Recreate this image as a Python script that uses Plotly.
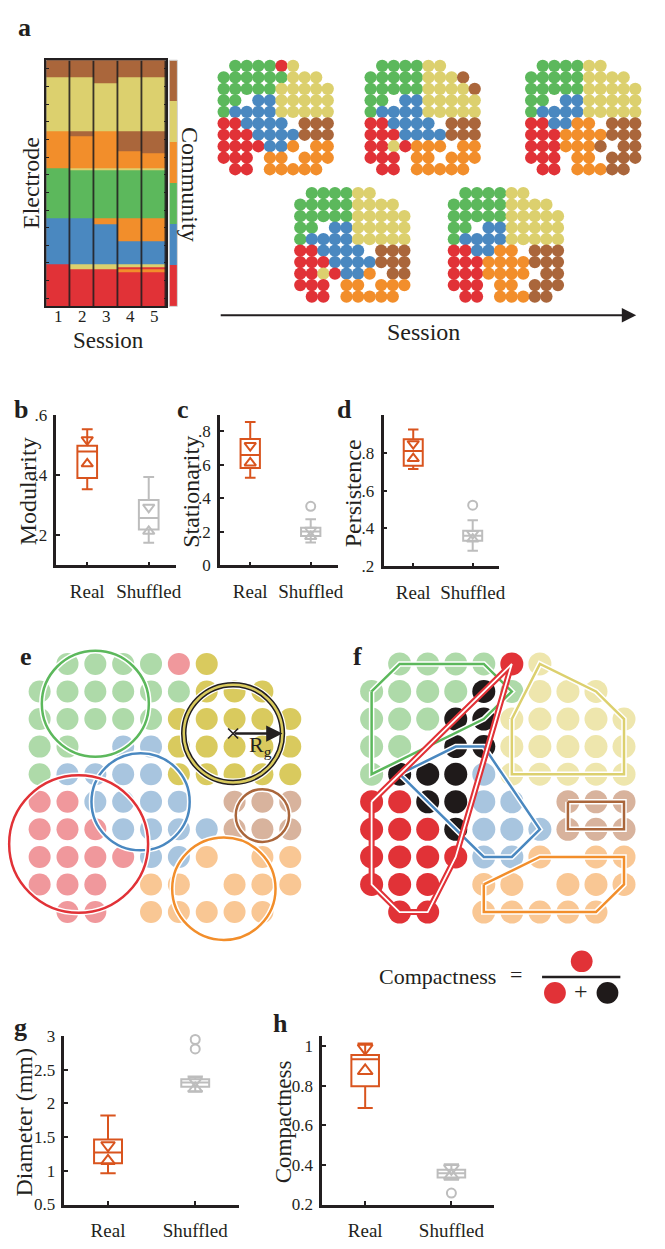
import numpy as np
import plotly.graph_objects as go

W, H = 665, 1249
SERIF = "Liberation Serif"
INK = "#231F20"

# ---------------------------------------------------------------- data
SESSIONS = [1, 2, 3, 4, 5]
SESSION_LABELS = ["1", "2", "3", "4", "5"]
COMMUNITIES = ["N", "Y", "O", "G", "B", "R"]  # brown, yellow, orange, green, blue, red

# panel a: electrode x session community raster (segments, top -> bottom)
SEGMENTS_S1 = [("N", 6), ("Y", 19), ("O", 13), ("G", 18), ("B", 16), ("R", 15)]
SEGMENTS_S2 = [("N", 6), ("Y", 19), ("N", 2), ("O", 11), ("Y", 1), ("G", 17), ("B", 16), ("Y", 2), ("R", 13)]
SEGMENTS_S3 = [("N", 8), ("Y", 17), ("O", 13), ("Y", 1), ("G", 17), ("O", 2), ("B", 14), ("Y", 2), ("R", 13)]
SEGMENTS_S4 = [("N", 6), ("Y", 19), ("N", 7), ("O", 6), ("Y", 1), ("G", 17), ("O", 8), ("B", 8),
               ("Y", 1), ("R", 1), ("O", 1), ("R", 12)]
SEGMENTS_S5 = [("N", 6), ("Y", 19), ("N", 8), ("O", 5), ("Y", 1), ("G", 17), ("O", 8), ("B", 8),
               ("Y", 1), ("R", 1), ("O", 1), ("R", 12)]

# electrode-grid community maps ('.' = no electrode)
GRID_S1 = [".GGGGRY...", "GGGGGGYYY.", "GGGGGYYYYY", "GG.BBYYYYY", "GBBBBYYYYY",
           "RRBBBB.NNN", "RRRBBBBNNN", "RRRRBBO.OO", "RRR.OO.OOO", ".RR.OOOOO."]
GRID_S2 = [".GGGGYY...", "GGGGGYYYY.", "GGGGGYYYYY", "GG.BBYYYYY", "GBBBBYYYYY",
           "RRBBBB.NNN", "RRRBBBBNNN", "RRYRBBO.NN", "RRR.OO.OOO", ".RR.OOOOO."]
GRID_S3 = [".GGGGYY...", "GGGGGYYYN.", "GGGGGYYYYN", "GG.BBYYYYY", "GBBBBYYYYY",
           "RRBBBB.NNN", "RRRBBBBNNN", "RRYROOO.OO", "RRR.OO.OOO", ".RR.OOOOO."]
GRID_S4 = [".GGGGYY...", "GGGGGYYYY.", "GGGGGYYYYY", "GG.BBYYYYY", "GBBBBYYYYY",
           "RRBBOO.NNN", "RRROOOONNN", "RRROOOO.NN", "RRR.OO.NNN", ".RR.OOONN."]
GRID_S5 = [".GGGGYY...", "GGGGGYYYY.", "GGGGGYYYYY", "GG.BBYYYYY", "GBBBBYYYYY",
           "RRBBOO.NNN", "RRROOOONNN", "RRROOON.NN", "RRR.OO.NNN", ".RR.OOONN."]
MAP_SESSIONS = [1, 3, 5, 2, 4]

# box plots: [lower whisker, q1, median, q3, upper whisker]; notch = [low, high]
BOX_GROUPS = ["Real", "Shuffled"]
MODULARITY_REAL = [0.353, 0.390, 0.478, 0.497, 0.552]
MODULARITY_SHUF = [0.175, 0.219, 0.257, 0.317, 0.393]
MODULARITY_NOTCH_REAL = [0.437, 0.517]
MODULARITY_NOTCH_SHUF = [0.213, 0.293]
MODULARITY_OUT_SHUF = []

STATIONARITY_REAL = [0.524, 0.582, 0.660, 0.755, 0.857]
STATIONARITY_SHUF = [0.137, 0.176, 0.202, 0.225, 0.275]
STATIONARITY_NOTCH_REAL = [0.612, 0.716]
STATIONARITY_NOTCH_SHUF = [0.172, 0.210]
STATIONARITY_OUT_SHUF = [0.353]

PERSISTENCE_REAL = [0.714, 0.731, 0.809, 0.870, 0.922]
PERSISTENCE_SHUF = [0.283, 0.335, 0.361, 0.388, 0.443]
PERSISTENCE_NOTCH_REAL = [0.769, 0.847]
PERSISTENCE_NOTCH_SHUF = [0.344, 0.373]
PERSISTENCE_OUT_SHUF = [0.523]

DIAMETER_REAL = [0.965, 1.112, 1.274, 1.465, 1.820]
DIAMETER_SHUF = [2.180, 2.250, 2.310, 2.360, 2.400]
DIAMETER_NOTCH_REAL = [1.147, 1.380]
DIAMETER_NOTCH_SHUF = [2.220, 2.340]
DIAMETER_OUT_SHUF = [2.81, 2.95]

COMPACT_REAL = [0.687, 0.797, 0.933, 0.955, 1.013]
COMPACT_SHUF = [0.325, 0.337, 0.358, 0.375, 0.403]
COMPACT_NOTCH_REAL = [0.875, 0.990]
COMPACT_NOTCH_SHUF = [0.345, 0.383]
COMPACT_OUT_SHUF = [0.258]

# ---------------------------------------------------------------- styles
MAIN = {"N": "#AA663B", "Y": "#DCD06E", "O": "#F28E2B", "G": "#5CB85C", "B": "#4A88C0", "R": "#E13237"}
E_COLOR = {"N": "#D8B39D", "Y": "#D9CA5E", "O": "#F9C794", "G": "#AEDAA9", "B": "#A8C5DF", "R": "#F0989C"}
F_COLOR = {"N": "#D8B39D", "Y": "#EEE6AD", "O": "#F9C794", "G": "#AEDAA9", "B": "#A8C5DF", "R": "#E13237"}
INSIDE_COLOR = "#1F1A1A"
REAL_C = "#D9541E"
SHUF_C = "#BDBDBD"

fig = go.Figure()
layout = dict(width=W, height=H, margin=dict(l=0, r=0, t=0, b=0), paper_bgcolor="white",
              plot_bgcolor="white", showlegend=False, font=dict(family=SERIF, color=INK))
shapes, annotations = [], []


def X(p):
    return p / W


def Y(p):
    return 1 - p / H


def dom_x(a, b):
    return [X(a), X(b)]


def dom_y(top, bottom):
    return [Y(bottom), Y(top)]


def text(t, x, y, size, angle=0, bold=False, **kw):
    annotations.append(dict(text=f"<b>{t}</b>" if bold else t, x=X(x), y=Y(y), xref="paper", yref="paper",
                            showarrow=False, textangle=angle, xanchor="center", yanchor="middle",
                            font=dict(family=SERIF, size=size, color=INK), **kw))


def grid_points(grid):
    xs, ys, cs = [], [], []
    for r, row in enumerate(grid, start=1):
        for c, ch in enumerate(row, start=1):
            if ch != ".":
                xs.append(c)
                ys.append(r)
                cs.append(ch)
    return np.array(xs, float), np.array(ys, float), cs


def convex_hull(pts):
    pts = sorted(set(pts))
    if len(pts) < 3:
        return pts

    def cross(o, a, b):
        return (a[0] - o[0]) * (b[1] - o[1]) - (a[1] - o[1]) * (b[0] - o[0])
    lower, upper = [], []
    for p in pts:
        while len(lower) >= 2 and cross(lower[-2], lower[-1], p) <= 0:
            lower.pop()
        lower.append(p)
    for p in reversed(pts):
        while len(upper) >= 2 and cross(upper[-2], upper[-1], p) <= 0:
            upper.pop()
        upper.append(p)
    return lower[:-1] + upper[:-1]


def in_hull(p, hull, eps=1e-9):
    n = len(hull)
    for i in range(n):
        a, b = hull[i], hull[(i + 1) % n]
        cr = (b[0] - a[0]) * (p[1] - a[1]) - (b[1] - a[1]) * (p[0] - a[0])
        if cr < -eps:
            return False
    return True


GRIDS = {1: GRID_S1, 2: GRID_S2, 3: GRID_S3, 4: GRID_S4, 5: GRID_S5}

# ---------------------------------------------------------------- panel a raster
def expand(segs):
    col = []
    for c, n in segs:
        col += [COMMUNITIES.index(c) + 0.5] * n
    return col


z = np.column_stack([expand(s) for s in [SEGMENTS_S1, SEGMENTS_S2, SEGMENTS_S3, SEGMENTS_S4, SEGMENTS_S5]])
n_el = z.shape[0]
cscale = []
for i, c in enumerate(COMMUNITIES):
    cscale += [[i / 6, MAIN[c]], [(i + 1) / 6, MAIN[c]]]

fig.add_trace(go.Heatmap(z=z, x=SESSIONS, y=np.arange(n_el) + 0.5, colorscale=cscale, zmin=0, zmax=6,
                         showscale=False, xgap=1.6, xaxis="x", yaxis="y", hoverinfo="skip"))
layout["xaxis"] = dict(domain=dom_x(46.7, 168), anchor="y", range=[0.5, 5.5], showticklabels=False, ticks="",
                       showline=True, mirror=True, linecolor=INK, linewidth=1.5, showgrid=False, zeroline=False,
                       fixedrange=True)
layout["yaxis"] = dict(domain=dom_y(52, 302), anchor="x", range=[n_el, 0], showline=True, mirror="ticks",
                       linecolor=INK, linewidth=1.5, ticks="inside", ticklen=3, tickcolor=INK, tickwidth=1,
                       tick0=3.1, dtick=6.23, showticklabels=False, showgrid=False, zeroline=False, fixedrange=True)
shapes.append(dict(type="rect", xref="x domain", yref="y domain", x0=0, x1=1, y0=0, y1=1,
                   fillcolor=INK, line=dict(width=0), layer="below"))
for s, lab in zip(SESSIONS, SESSION_LABELS):
    annotations.append(dict(text=lab, x=s, xref="x", y=Y(312), yref="paper", showarrow=False,
                            xanchor="center", yanchor="middle", font=dict(family=SERIF, size=17, color=INK)))

# colour bar
fig.add_trace(go.Heatmap(z=[[i + 0.5] for i in range(6)], x=[0], y=list(range(6)), colorscale=cscale,
                         zmin=0, zmax=6, showscale=False, xaxis="x2", yaxis="y2", hoverinfo="skip"))
layout["xaxis2"] = dict(domain=dom_x(170.7, 179), anchor="y2", range=[-0.5, 0.5], visible=False, fixedrange=True)
layout["yaxis2"] = dict(domain=dom_y(52, 302), anchor="x2", range=[5.5, -0.5], visible=False, fixedrange=True)
shapes.append(dict(type="rect", xref="x2 domain", yref="y2 domain", x0=0, x1=1, y0=0, y1=1,
                   line=dict(width=1, color="#D0D0D0"), layer="above"))

text("a", 25, 19, 26, bold=True)
text("Electrode", 32, 177, 24, angle=-90)
text("Community", 191, 178, 24, angle=90)
text("Session", 109, 337, 23)

# ---------------------------------------------------------------- topographic maps
MAP_ORIGINS = [(225.7, 57.7), (374.0, 57.7), (536.0, 57.7), (303.0, 187.0), (458.0, 187.0)]
MAP_STEP = 11.67
for k, (sess, (ox, oy)) in enumerate(zip(MAP_SESSIONS, MAP_ORIGINS)):
    n = 3 + k
    xs, ys, cs = grid_points(GRIDS[sess])
    fig.add_trace(go.Scatter(x=xs, y=ys, mode="markers", cliponaxis=False,
                             marker=dict(size=12.3, color=[MAIN[c] for c in cs], line=dict(width=0)),
                             xaxis=f"x{n}", yaxis=f"y{n}", hoverinfo="skip"))
    layout[f"xaxis{n}"] = dict(domain=dom_x(ox - MAP_STEP / 2, ox + 9.5 * MAP_STEP), anchor=f"y{n}",
                               range=[0.5, 10.5], visible=False, fixedrange=True)
    layout[f"yaxis{n}"] = dict(domain=dom_y(oy - MAP_STEP / 2, oy + 9.5 * MAP_STEP), anchor=f"x{n}",
                               range=[10.5, 0.5], visible=False, fixedrange=True)

annotations.append(dict(x=X(642), y=Y(311), xref="paper", yref="paper", ax=-417, ay=0, axref="pixel",
                        ayref="pixel", text="", showarrow=True, arrowhead=2, arrowsize=1.6, arrowwidth=1.8,
                        arrowcolor=INK, standoff=0))
text("Session", 427, 328, 24)

# ---------------------------------------------------------------- box plots
def add_box_panel(n, xd, yd, xr, yr, tickvals, ticktext, real, shuf, notch_r, notch_s, out_s, tri):
    xa, ya = f"x{n}", f"y{n}"
    for xpos, st, nt, col in [(1, real, notch_r, REAL_C), (2, shuf, notch_s, SHUF_C)]:
        lo, q1, med, q3, hi = st
        fig.add_trace(go.Box(x=[xpos], q1=[q1], median=[med], q3=[q3], lowerfence=[lo], upperfence=[hi],
                             orientation="v", width=0.32, whiskerwidth=0.55, boxpoints=False,
                             line=dict(color=col, width=2), fillcolor="rgba(255,255,255,0)",
                             xaxis=xa, yaxis=ya, hoverinfo="skip"))
        fig.add_trace(go.Scatter(x=[xpos, xpos], y=nt, mode="markers", cliponaxis=False,
                                 marker=dict(symbol=["triangle-up-open", "triangle-down-open"], size=tri,
                                             color=col, line=dict(color=col, width=2)),
                                 xaxis=xa, yaxis=ya, hoverinfo="skip"))
    if out_s:
        fig.add_trace(go.Scatter(x=[2] * len(out_s), y=out_s, mode="markers", cliponaxis=False,
                                 marker=dict(symbol="circle-open", size=9, color=SHUF_C,
                                             line=dict(color=SHUF_C, width=2)),
                                 xaxis=xa, yaxis=ya, hoverinfo="skip"))
    axis_common = dict(showline=True, linecolor=INK, linewidth=2.5, ticks="inside", ticklen=4, tickwidth=2,
                       tickcolor=INK, showgrid=False, zeroline=False, fixedrange=True)
    layout[f"xaxis{n}"] = dict(domain=dom_x(*xd), anchor=ya, range=xr, tickvals=[1, 2], ticktext=BOX_GROUPS,
                               tickfont=dict(size=19, family=SERIF, color=INK), ticklabelstandoff=7,
                               **axis_common)
    layout[f"yaxis{n}"] = dict(domain=dom_y(*yd), anchor=xa, range=yr, tickvals=tickvals, ticktext=ticktext,
                               tickfont=dict(size=17, family=SERIF, color=INK), ticklabelstandoff=3,
                               **axis_common)


add_box_panel(8, (57, 178), (412, 565), [0.5, 2.45], [0.1, 0.6], [0.2, 0.4, 0.6], [".2", ".4", ".6"],
              MODULARITY_REAL, MODULARITY_SHUF, MODULARITY_NOTCH_REAL, MODULARITY_NOTCH_SHUF,
              MODULARITY_OUT_SHUF, 10)
add_box_panel(9, (222, 341), (412, 565), [0.5, 2.45], [0, 0.9], [0, 0.2, 0.4, 0.6, 0.8],
              ["0", ".2", ".4", ".6", ".8"], STATIONARITY_REAL, STATIONARITY_SHUF, STATIONARITY_NOTCH_REAL,
              STATIONARITY_NOTCH_SHUF, STATIONARITY_OUT_SHUF, 10)
add_box_panel(10, (387, 504), (412, 566), [0.5, 2.45], [0.2, 1.0], [0.2, 0.4, 0.6, 0.8],
              [".2", ".4", ".6", ".8"], PERSISTENCE_REAL, PERSISTENCE_SHUF, PERSISTENCE_NOTCH_REAL,
              PERSISTENCE_NOTCH_SHUF, PERSISTENCE_OUT_SHUF, 10)
add_box_panel(13, (65, 241), (1043, 1214), [0.5, 2.5], [0.5, 3.0], [0.5, 1, 1.5, 2, 2.5, 3],
              ["0.5", "1", "1.5", "2", "2.5", "3"], DIAMETER_REAL, DIAMETER_SHUF, DIAMETER_NOTCH_REAL,
              DIAMETER_NOTCH_SHUF, DIAMETER_OUT_SHUF, 12)
add_box_panel(14, (325, 499), (1043, 1214), [0.5, 2.5], [0.2, 1.05], [0.2, 0.4, 0.6, 0.8, 1.0],
              ["0.2", "0.4", "0.6", "0.8", "1"], COMPACT_REAL, COMPACT_SHUF, COMPACT_NOTCH_REAL,
              COMPACT_NOTCH_SHUF, COMPACT_OUT_SHUF, 13)

text("b", 21, 407, 26, bold=True)
text("c", 185, 407, 26, bold=True)
text("d", 348, 407, 26, bold=True)
text("g", 21, 1034, 26, bold=True)
text("h", 283, 1030, 26, bold=True)
text("Modularity", 28, 490, 24, angle=-90)
text("Stationarity", 192, 490, 24, angle=-90)
text("Persistence", 356, 492, 24, angle=-90)
text("Diameter (mm)", 24, 1130, 24, angle=-90)
text("Compactness", 286, 1130, 23, angle=-90)

# ---------------------------------------------------------------- panel e (radius of gyration)
xs1, ys1, cs1 = grid_points(GRID_S1)
cs1 = np.array(cs1)

E_X0, E_DX, E_Y0, E_DY = 40.0, 28.1, 665.0, 28.0
layout["xaxis11"] = dict(domain=dom_x(0, 332), anchor="y11",
                         range=[1 + (0 - E_X0) / E_DX, 1 + (332 - E_X0) / E_DX], visible=False, fixedrange=True)
layout["yaxis11"] = dict(domain=dom_y(640, 968), anchor="x11",
                         range=[1 + (968 - E_Y0) / E_DY, 1 + (640 - E_Y0) / E_DY], visible=False, fixedrange=True)
fig.add_trace(go.Scatter(x=xs1, y=ys1, mode="markers", cliponaxis=False,
                         marker=dict(size=22, color=[E_COLOR[c] for c in cs1], line=dict(width=0)),
                         xaxis="x11", yaxis="y11", hoverinfo="skip"))

for c in ["G", "B", "R", "N", "O", "Y"]:
    m = cs1 == c
    cx, cy = xs1[m].mean(), ys1[m].mean()
    rg = np.sqrt(np.mean((xs1[m] - cx) ** 2 + (ys1[m] - cy) ** 2))
    circ = dict(type="circle", xref="x11", yref="y11", x0=cx - rg, x1=cx + rg, y0=cy - rg, y1=cy + rg,
                layer="above")
    if c == "Y":
        shapes.append(dict(circ, line=dict(color="white", width=8)))
        shapes.append(dict(circ, line=dict(color=INK, width=5.5)))
        shapes.append(dict(circ, line=dict(color=E_COLOR["Y"], width=2.5)))
        fig.add_trace(go.Scatter(x=[cx], y=[cy], mode="markers",
                                 marker=dict(symbol="x-thin", size=10, line=dict(width=1.6, color=INK)),
                                 xaxis="x11", yaxis="y11", hoverinfo="skip"))
        annotations.append(dict(x=cx + rg, y=cy, ax=cx, ay=cy, xref="x11", yref="y11", axref="x11",
                                ayref="y11", text="", showarrow=True, arrowhead=2, arrowsize=1.3,
                                arrowwidth=2.5, arrowcolor=INK, standoff=0))
        annotations.append(dict(x=cx + 0.55 * rg, y=cy + 0.26 * rg, xref="x11", yref="y11", showarrow=False,
                                text="R<sub>g</sub>", font=dict(family=SERIF, size=22, color=INK),
                                xanchor="center", yanchor="middle"))
    else:
        shapes.append(dict(circ, line=dict(color="white", width=5.5)))
        shapes.append(dict(circ, line=dict(color=MAIN[c], width=2.5)))

text("e", 26, 657, 26, bold=True)

# ---------------------------------------------------------------- panel f (convex hulls / compactness)
F_X0, F_DX, F_Y0, F_DY = 375.0, 28.3, 665.0, 28.0
layout["xaxis12"] = dict(domain=dom_x(345, 662), anchor="y12",
                         range=[1 + (345 - F_X0) / F_DX, 1 + (662 - F_X0) / F_DX], visible=False, fixedrange=True)
layout["yaxis12"] = dict(domain=dom_y(640, 945), anchor="x12",
                         range=[1 + (945 - F_Y0) / F_DY, 1 + (640 - F_Y0) / F_DY], visible=False, fixedrange=True)

hulls = {}
for c in COMMUNITIES:
    m = cs1 == c
    hulls[c] = convex_hull(list(zip(xs1[m].tolist(), ys1[m].tolist())))

f_cols = []
for x, y, c in zip(xs1, ys1, cs1):
    if c == "R":
        f_cols.append(F_COLOR["R"])
    elif in_hull((x, y), hulls["R"]):
        f_cols.append(INSIDE_COLOR)
    else:
        f_cols.append(F_COLOR[c])
fig.add_trace(go.Scatter(x=xs1, y=ys1, mode="markers", cliponaxis=False,
                         marker=dict(size=23, color=f_cols, line=dict(width=0)),
                         xaxis="x12", yaxis="y12", hoverinfo="skip"))

for c in ["G", "Y", "B", "N", "O", "R"]:
    hx = [p[0] for p in hulls[c]] + [hulls[c][0][0]]
    hy = [p[1] for p in hulls[c]] + [hulls[c][0][1]]
    if c == "R":
        under, over = dict(color=MAIN["R"], width=6), dict(color="white", width=1.8)
    else:
        under, over = dict(color="white", width=5.5), dict(color=MAIN[c], width=2.5)
    for ln in (under, over):
        fig.add_trace(go.Scatter(x=hx, y=hy, mode="lines", line=dict(ln, shape="linear"), cliponaxis=False,
                                 xaxis="x12", yaxis="y12", hoverinfo="skip"))

text("f", 361, 657, 26, bold=True)

# compactness formula
text("Compactness", 441, 982, 22)
text("=", 521, 980, 22)
text("+", 586, 997, 24)
shapes.append(dict(type="line", xref="paper", yref="paper", x0=X(547), x1=X(626), y0=Y(983), y1=Y(983),
                   line=dict(color=INK, width=2.5)))
for (cx, cy, col) in [(587, 967, MAIN["R"]), (560, 999, MAIN["R"]), (613, 999, INSIDE_COLOR)]:
    shapes.append(dict(type="circle", xref="paper", yref="paper", x0=X(cx - 11), x1=X(cx + 11),
                       y0=Y(cy + 11), y1=Y(cy - 11), fillcolor=col, line=dict(width=0)))

layout["shapes"] = shapes
layout["annotations"] = annotations
fig.update_layout(layout)
fig.write_html("out.html", config={"displayModeBar": False},
               post_script="document.body.style.margin='0px';document.body.style.padding='0px';")
